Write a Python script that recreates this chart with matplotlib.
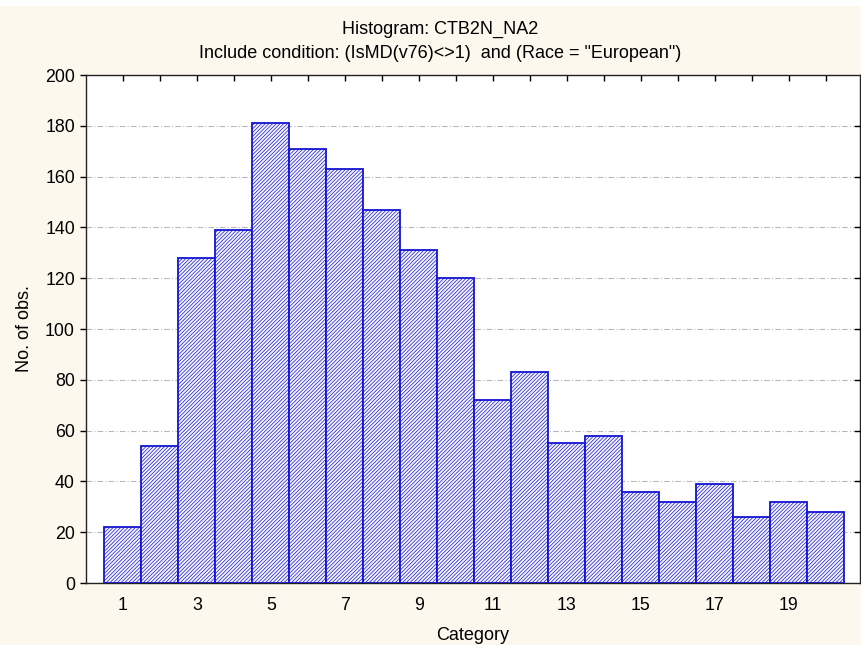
import matplotlib
matplotlib.use("Agg")
import matplotlib.pyplot as plt
from matplotlib.ticker import MultipleLocator

categories = list(range(1, 21))
counts = [22, 54, 128, 139, 181, 171, 163, 147, 131, 120, 72, 83, 55, 58, 36, 32, 39, 26, 32, 28]
title_line1 = "Histogram: CTB2N_NA2"
title_line2 = "Include condition: (IsMD(v76)<>1)  and (Race = \"European\")"

plt.rcParams['font.family'] = ['Liberation Sans', 'DejaVu Sans']
plt.rcParams['hatch.linewidth'] = 0.5

W, H = 862, 645
bg = '#fdf8ee'
fig = plt.figure(figsize=(W / 100, H / 100), dpi=100, facecolor=bg)
fig.patches.append(plt.Rectangle((0, 1 - 6 / H), 1, 6 / H, transform=fig.transFigure,
                                 facecolor='white', edgecolor='none', zorder=0))
ax = fig.add_axes([86 / W, 1 - 583 / H, (860 - 86) / W, (583 - 75) / H])
ax.set_facecolor('white')

ax.bar(categories, counts, width=1.0, facecolor='#f4f4ff', edgecolor='#1414d2',
       linewidth=1.3, hatch='/' * 9, zorder=3)

ax.set_xlim(0, 20.93)
ax.set_ylim(0, 200)
ax.yaxis.set_major_locator(MultipleLocator(20))
ax.set_xticks(categories)
ax.set_xticklabels([str(c) if c % 2 == 1 else '' for c in categories])
ax.grid(axis='y', color='#b8b8b8', linestyle=(0, (5, 2, 1, 2)), linewidth=0.8, zorder=1)
ax.tick_params(axis='x', direction='in', length=4, width=1, top=True, labelsize=12.8, pad=10, colors='black')
ax.tick_params(axis='y', direction='out', length=4, width=1, right=False, labelsize=12.8, pad=4)
for y in range(20, 200, 20):
    ax.plot([1, 1 - 0.006], [y, y], transform=ax.get_yaxis_transform(), color='black', lw=1,
            clip_on=False, zorder=4)
for s in ax.spines.values():
    s.set_color('#222222')
    s.set_linewidth(1.0)

fig.text(473 / W, 1 - 640 / H, "Category", ha='center', va='baseline', fontsize=13)
fig.text(25 / W, 1 - 329 / H, "No. of obs.", ha='center', va='center', rotation=90, fontsize=13)
fig.text(440 / W, 1 - 34.3 / H, title_line1, ha='center', va='baseline', fontsize=13)
fig.text(440 / W, 1 - 57.5 / H, title_line2, ha='center', va='baseline', fontsize=13)

fig.savefig("out.png", dpi=100, facecolor=bg)
